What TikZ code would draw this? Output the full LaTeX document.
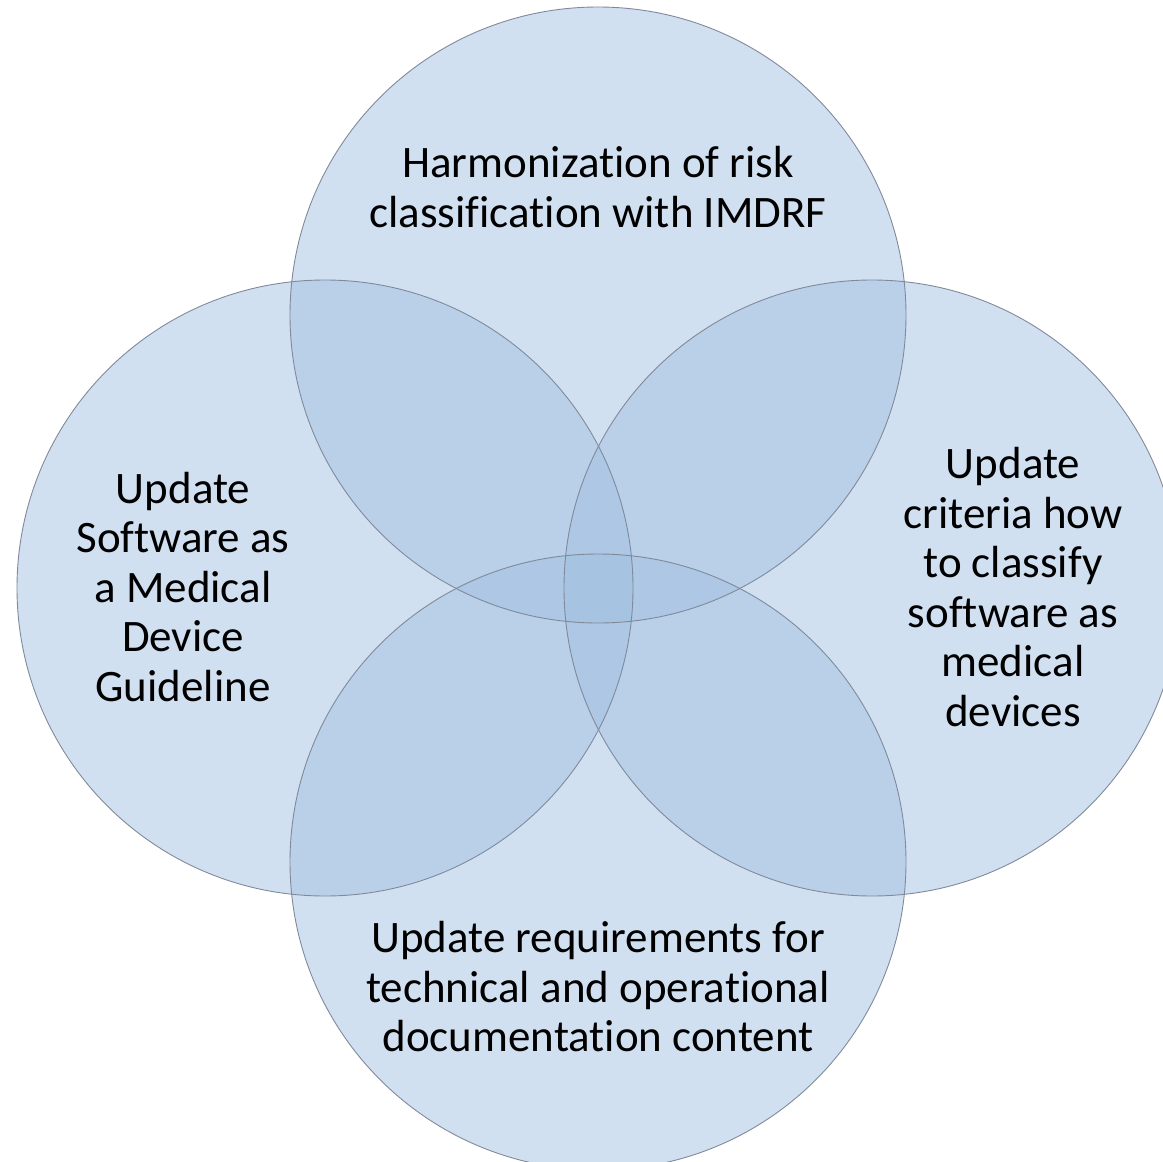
\documentclass[tikz,border=0pt]{standalone}
\usepackage{fontspec}
\setmainfont{Carlito}[Ligatures=CommonOff]
\definecolor{vennfill}{RGB}{159,190,224}
\definecolor{vennedge}{RGB}{128,138,155}
\tikzset{
  venn/.style={circle, minimum size=616pt, inner sep=0pt, fill=vennfill, fill opacity=0.48},
  vennrim/.style={draw=vennedge, line width=0.9pt},
  label/.style={align=center, font=\fontsize{45}{49.5}\selectfont, text=black}
}
\begin{document}
\begin{tikzpicture}[x=1pt,y=-1pt]
  \useasboundingbox (0,0) rectangle (1163,1162);
  % four overlapping circles
  \node[venn] (top)    at (598,315) {};
  \node[venn] (left)   at (325,588) {};
  \node[venn] (right)  at (872,588) {};
  \node[venn] (bottom) at (598,862) {};
  % outlines on top of all fills
  \foreach \c in {top,left,right,bottom}
    \draw[vennrim] (\c.center) circle (308pt);
  % labels
  \node[label] (ltop) at (598,187) {Harmonization of risk\\classification with IMDRF};
  \node[label] (lleft) at (183,587) {Update\\Software as\\a Medical\\Device\\Guideline};
  \node[label] (lright) at (1013,587) {Update\\criteria how\\to classify\\software as\\medical\\devices};
  \node[label] (lbottom) at (598,987) {Update requirements for\\technical and operational\\documentation content};
\end{tikzpicture}
\end{document}
